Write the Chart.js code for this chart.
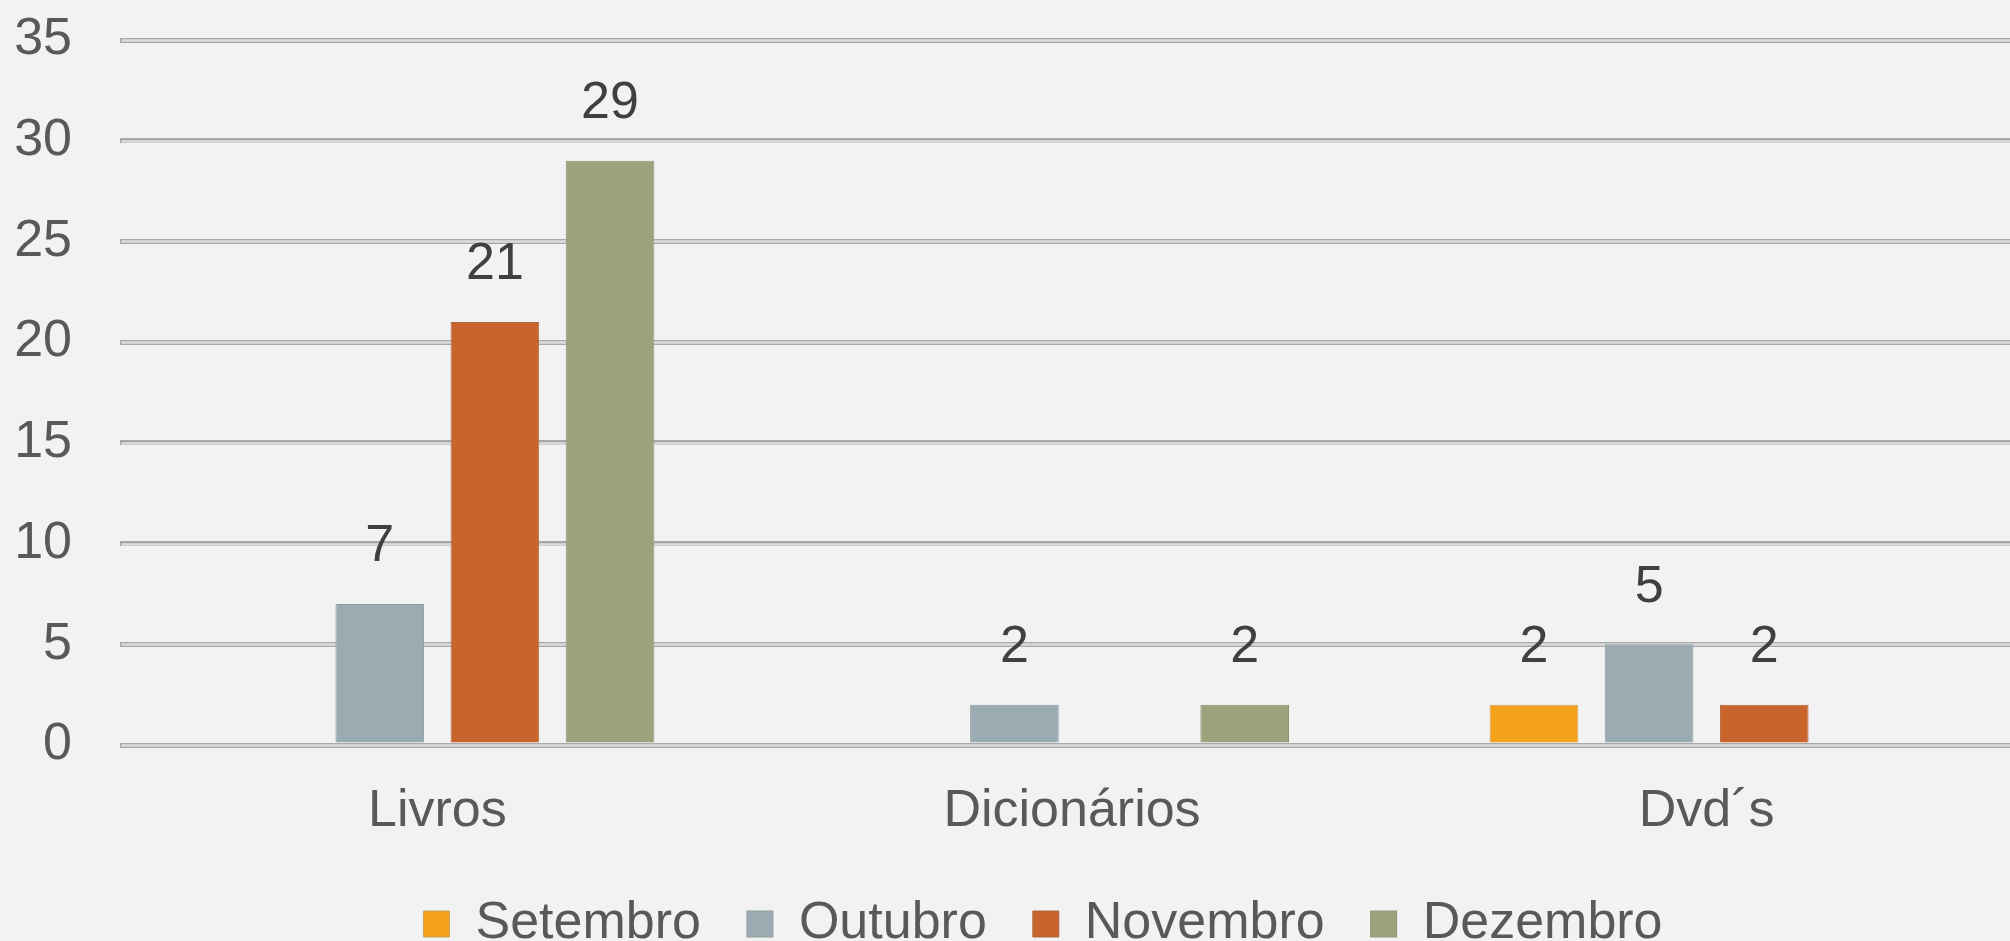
<!DOCTYPE html>
<html><head><meta charset="utf-8">
<script src="https://cdn.jsdelivr.net/npm/chart.js@4/dist/chart.umd.min.js"></script>
<style>
html,body{margin:0;padding:0;background:#F2F2F2;overflow:hidden;width:2010px;height:941px}
#wrap{position:relative;width:2024px;height:941px}
</style></head>
<body><div id="wrap"><canvas id="c" width="2024" height="941"></canvas></div>
<script>
const categories = ['Livros', 'Dicionários', 'Dvd´s'];
const seriesNames = ['Setembro', 'Outubro', 'Novembro', 'Dezembro'];
const setembro = [null, null, 2];
const outubro = [7, 2, 5];
const novembro = [21, null, 2];
const dezembro = [29, 2, null];
const yTicks = [0, 5, 10, 15, 20, 25, 30, 35];

const fills = ['#F4A21C', '#9AACB2', '#C8652C', '#9CA37C'];
const borders = ['#C9A060', '#8E9DA2', '#B0683E', '#8F9577'];
const seriesValues = [setembro, outubro, novembro, dezembro];

const FONT = "'Liberation Sans', Arial, Helvetica, sans-serif";

const unclipY = {
  id: 'unclipY',
  beforeDraw(chart) {
    chart.scales.y._computeLabelArea = () => undefined;
  }
};

const gridInner = {
  id: 'gridInner',
  beforeDatasetsDraw(chart) {
    const {ctx, chartArea, scales: {y}} = chart;
    ctx.save();
    ctx.strokeStyle = '#DCDCDC';
    ctx.lineWidth = 2.5;
    y.ticks.forEach(t => {
      const py = Math.round(y.getPixelForValue(t.value)) + 0.5;
      ctx.beginPath();
      ctx.moveTo(chartArea.left + 1.5, py);
      ctx.lineTo(chartArea.right, py);
      ctx.stroke();
    });
    ctx.restore();
  }
};

const valueLabels = {
  id: 'valueLabels',
  afterDatasetsDraw(chart) {
    const {ctx} = chart;
    ctx.save();
    ctx.font = '52px ' + FONT;
    ctx.fillStyle = '#404040';
    ctx.textAlign = 'center';
    ctx.textBaseline = 'middle';
    chart.data.datasets.forEach((ds, di) => {
      const meta = chart.getDatasetMeta(di);
      meta.data.forEach((bar, i) => {
        const v = ds.data[i];
        if (v === null || v === undefined) return;
        ctx.fillText(String(v), bar.x, bar.y - 57);
      });
    });
    ctx.restore();
  }
};

new Chart(document.getElementById('c'), {
  type: 'bar',
  data: {
    labels: categories,
    datasets: seriesNames.map((name, k) => ({
      label: name,
      data: seriesValues[k],
      backgroundColor: fills[k],
      borderColor: borders[k],
      borderWidth: 1,
      borderSkipped: 'bottom',
      categoryPercentage: 0.7256,
      barPercentage: 0.77
    }))
  },
  options: {
    responsive: false,
    animation: false,
    devicePixelRatio: 1,
    layout: {padding: {left: 62, right: 0, top: 40, bottom: -19}},
    plugins: {
      legend: {
        position: 'bottom',
        labels: {
          font: {family: FONT, size: 52},
          color: '#595959',
          boxWidth: 26,
          boxHeight: 26,
          padding: 46
        }
      },
      tooltip: {enabled: false}
    },
    scales: {
      x: {
        grid: {display: false, drawTicks: false},
        border: {display: false},
        ticks: {font: {family: FONT, size: 52}, color: '#595959', padding: 35},
        afterFit: s => { s.height = 107; }
      },
      y: {
        min: 0, max: 35,
        afterBuildTicks: s => { s.ticks = yTicks.map(v => ({value: v})); },
        grid: {color: '#A8A8A8', lineWidth: 5, drawTicks: false},
        border: {display: false},
        ticks: {font: {family: FONT, size: 52}, color: '#595959', padding: 48},
        afterFit: s => { s.width = 58; s.paddingTop = 0; s.paddingBottom = 0; }
      }
    }
  },
  plugins: [unclipY, gridInner, valueLabels]
});
</script>
</body></html>
